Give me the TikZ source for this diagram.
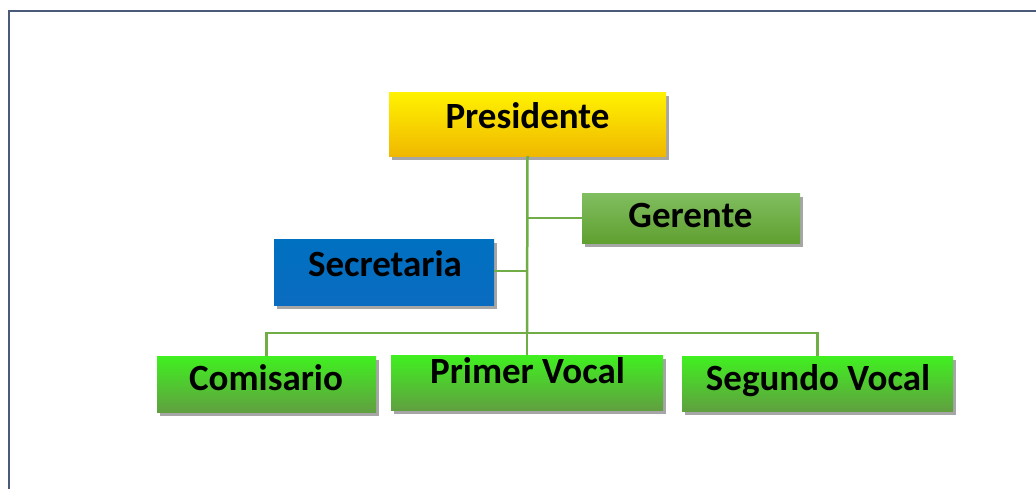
\documentclass[tikz,border=0pt]{standalone}
\usepackage{fontspec}
\setmainfont{Carlito}
\usetikzlibrary{shadows}
\definecolor{frame}{HTML}{4A5A78}
\definecolor{conn}{HTML}{70AD47}
\tikzset{
  box/.style={rectangle, inner sep=0pt,
    drop shadow={shadow xshift=3pt, shadow yshift=-4pt, opacity=0.35, fill=black}},
  lbl/.style={anchor=base, inner sep=0pt, font=\bfseries\fontsize{37}{40}\selectfont, text=black},
  yellowbox/.style={box, top color={rgb,255:red,255;green,242;blue,0}, bottom color={rgb,255:red,240;green,184;blue,0}},
  gerbox/.style={box, top color={rgb,255:red,128;green,190;blue,96}, bottom color={rgb,255:red,96;green,160;blue,48}},
  bluebox/.style={box, top color={rgb,255:red,0;green,112;blue,192}, middle color={rgb,255:red,68;green,114;blue,196}, bottom color={rgb,255:red,10;green,108;blue,192}},
  brightbox/.style={box, top color={rgb,255:red,64;green,240;blue,32}, bottom color={rgb,255:red,96;green,160;blue,64}},
  link/.style={draw=conn, line width=2.5pt}
}
\begin{document}
\begin{tikzpicture}[x=1pt,y=-1pt]
\useasboundingbox (0,0) rectangle (1036,488);
\fill[white] (-10,-10) rectangle (1050,500);
\draw[frame, line width=2.5pt] (9,520) -- (9,11) -- (1060,11);
\node[yellowbox, minimum width=277pt, minimum height=64pt] (pres) at (527.5,124) {};
\node[gerbox, minimum width=218pt, minimum height=50pt] (ger) at (691,218) {};
\node[bluebox, minimum width=220pt, minimum height=66pt] (sec) at (384,272) {};
\node[brightbox, minimum width=219pt, minimum height=56pt] (com) at (266.5,384) {};
\node[brightbox, minimum width=272pt, minimum height=55pt] (pv) at (527,382.5) {};
\node[brightbox, minimum width=271pt, minimum height=55pt] (sv) at (817.5,383.5) {};
\node[lbl] (presT) at (527.5,128) {Presidente};
\node[lbl] (gerT) at (690.5,227) {Gerente};
\node[lbl] (secT) at (385,276) {Secretaria};
\node[lbl] (comT) at (266,390) {Comisario};
\node[lbl] (pvT) at (527.5,383) {Primer Vocal};
\node[lbl] (svT) at (818,390) {Segundo Vocal};
\coordinate (bus) at (527,333);
\coordinate (jg) at (527,218);
\coordinate (js) at (527,271);
\draw[link] (pres.south) -- (bus);
\draw[link] (jg) -- (ger.west);
\draw[link] (js) -- (sec.east |- js);
\draw[link] (com.north) |- (bus) -| (sv.north);
\draw[link] (bus) -- (pv.north);
\end{tikzpicture}
\end{document}
